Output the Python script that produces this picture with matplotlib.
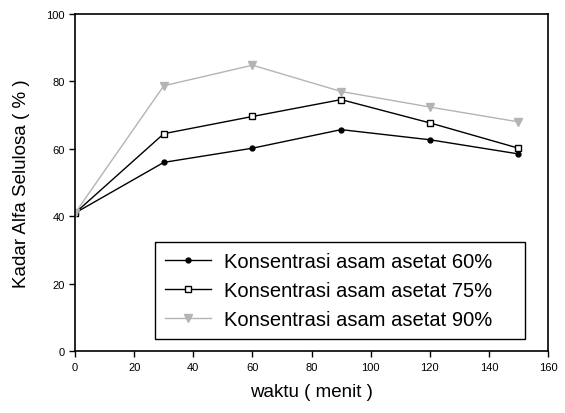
import matplotlib
matplotlib.use("Agg")
from matplotlib import pyplot as plt

plt.rcParams['font.family'] = ['Liberation Sans', 'DejaVu Sans']

waktu = [0, 30, 60, 90, 120, 150]
kons60 = [41, 56, 60.2, 65.7, 62.7, 58.5]
kons75 = [41, 64.5, 69.6, 74.6, 67.7, 60.2]
kons90 = [41, 78.7, 84.8, 77.0, 72.4, 68.0]

fig = plt.figure(figsize=(5.65, 4.14), dpi=100)
ax = fig.add_axes([0.133, 0.149, 0.837, 0.815])

ax.plot(waktu, kons60, color='black', lw=1, marker='o', ms=3.5,
        label="Konsentrasi asam asetat 60%")
ax.plot(waktu, kons75, color='black', lw=1, marker='s', ms=5, mfc='white',
        label="Konsentrasi asam asetat 75%")
ax.plot(waktu, kons90, color='#b4b4b4', lw=1, marker='v', ms=5.5,
        label="Konsentrasi asam asetat 90%")

ax.set_xlim(0, 160)
ax.set_ylim(0, 100)
ax.set_xticks(range(0, 161, 20))
ax.set_yticks(range(0, 101, 20))
ax.tick_params(direction='out', length=4, width=1, labelsize=8)
for s in ax.spines.values():
    s.set_linewidth(1.2)

ax.set_xlabel("waktu ( menit )", fontsize=13.5, labelpad=8)
ax.set_ylabel("Kadar Alfa Selulosa ( % )", fontsize=13.5, labelpad=12)

leg = ax.legend(loc='lower left', bbox_to_anchor=(0.169, 0.037, 0.782, 0.287),
                mode='expand', fontsize=14.5, fancybox=False, edgecolor='black',
                framealpha=1, borderaxespad=0, handlelength=2.3,
                handletextpad=0.6, labelspacing=0.5, borderpad=0.5)
leg.get_frame().set_linewidth(1)

plt.savefig('out.png', dpi=100)
